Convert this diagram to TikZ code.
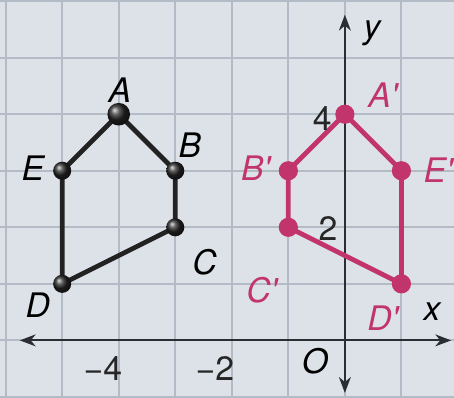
\documentclass[tikz,border=0pt]{standalone}
\usepackage{fontspec}
\setmainfont{TeX Gyre Heros}
\usetikzlibrary{arrows.meta}
\definecolor{bgc}{HTML}{DDE2E8}
\definecolor{gridc}{HTML}{B3BBC6}
\definecolor{axisc}{HTML}{2A2D33}
\definecolor{origc}{HTML}{222222}
\definecolor{imgc}{HTML}{C2346C}
\tikzset{
  gridline/.style={draw=gridc, line width=1pt},
  axisline/.style={draw=axisc, line width=0.9pt, {Stealth[length=8pt,width=6pt,inset=2.5pt]}-{Stealth[length=8pt,width=6pt,inset=2.5pt]}},
  origedge/.style={draw=origc, line width=2.4pt, line join=round},
  imgedge/.style={draw=imgc, line width=2.4pt, line join=round},
  origdot/.style={circle, inner sep=0pt, minimum size=0.32cm, shading=ball, ball color=black!85},
  bigdot/.style={origdot, minimum size=0.4cm},
  imgdot/.style={circle, inner sep=0pt, minimum size=0.34cm, fill=imgc},
  lbl/.style={font=\fontsize{17}{19}\selectfont\itshape, inner sep=0pt},
  imglbl/.style={lbl, text=imgc},
  num/.style={font=\fontsize{17}{19}\selectfont, inner sep=0pt, text=black!85},
}
\begin{document}
\begin{tikzpicture}
\useasboundingbox (-6.1,-1.01) rectangle (1.93,6.02);
\fill[bgc] (-6.1,-1.01) rectangle (1.93,6.02);
\draw[gridline] (-6.1,-1.01) grid (1.93,6.02);
% axes
\coordinate (xl) at (-5.75,0);
\coordinate (xr) at (1.88,0);
\coordinate (yb) at (0,-0.93);
\coordinate (yt) at (0,5.76);
\draw[axisline] (xl) -- (xr);
\draw[axisline] (yb) -- (yt);
% vertices
\coordinate (A) at (-4,4);
\coordinate (B) at (-3,3);
\coordinate (C) at (-3,2);
\coordinate (D) at (-5,1);
\coordinate (E) at (-5,3);
\coordinate (A1) at (0,4);
\coordinate (B1) at (-1,3);
\coordinate (C1) at (-1,2);
\coordinate (D1) at (1,1);
\coordinate (E1) at (1,3);
\draw[origedge] (A) -- (B) -- (C) -- (D) -- (E) -- cycle;
\draw[imgedge] (A1) -- (B1) -- (C1) -- (D1) -- (E1) -- cycle;
% axis numbers
\node[num] (n4) at (-0.4,3.93) {4};
\node[num] (n2) at (-0.3,1.98) {2};
\node[num] (nm4) at (-4.28,-0.5) {−4};
\node[num] (nm2) at (-2.30,-0.5) {−2};
\node[lbl] (lo) at (-0.53,-0.36) {O};
\node[lbl] (lx) at (1.54,0.5) {x};
\node[lbl] (ly) at (0.48,5.43) {y};
% dots
\node[bigdot] (dA) at (A) {};
\node[origdot] (dB) at (B) {};
\node[origdot] (dC) at (C) {};
\node[origdot] (dD) at (D) {};
\node[origdot] (dE) at (E) {};
\node[imgdot] (dA1) at (A1) {};
\node[imgdot] (dB1) at (B1) {};
\node[imgdot] (dC1) at (C1) {};
\node[imgdot] (dD1) at (D1) {};
\node[imgdot] (dE1) at (E1) {};
% labels
\node[lbl] (lA) at (-3.98,4.42) {A};
\node[lbl] (lB) at (-2.74,3.45) {B};
\node[lbl] (lC) at (-2.48,1.38) {C};
\node[lbl] (lD) at (-5.43,0.62) {D};
\node[lbl] (lE) at (-5.52,3.04) {E};
\node[imglbl] (lA1) at (0.67,4.34) {A\textquotesingle};
\node[imglbl] (lB1) at (-1.58,3.04) {B\textquotesingle};
\node[imglbl] (lC1) at (-1.47,0.88) {C\textquotesingle};
\node[imglbl] (lD1) at (0.67,0.39) {D\textquotesingle};
\node[imglbl] (lE1) at (1.65,3.01) {E\textquotesingle};
\end{tikzpicture}
\end{document}
